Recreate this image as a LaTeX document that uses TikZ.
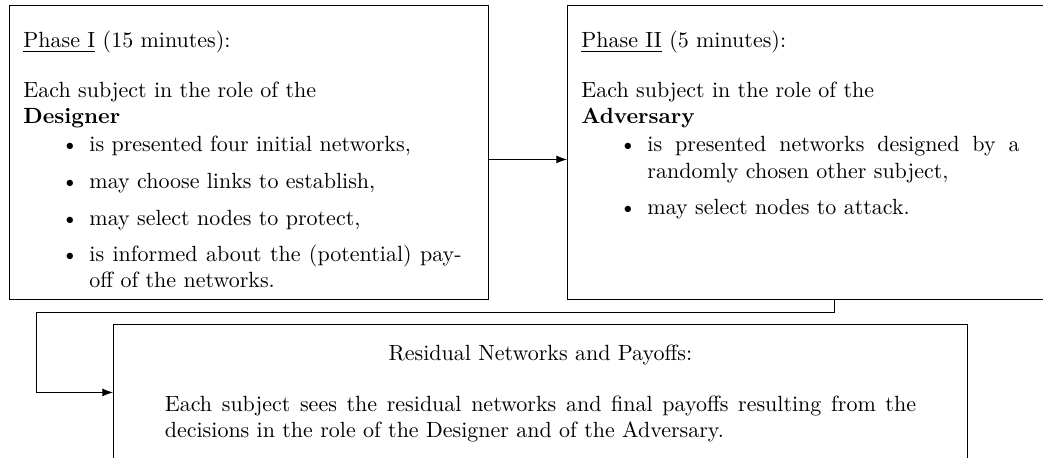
\documentclass[tikz,border=0pt]{standalone}
\usepackage{tikz}
\usepackage{enumitem}
\usetikzlibrary{arrows.meta}
\usetikzlibrary{calc}

\newlength{\px}
\setlength{\px}{0.4545pt}
\setlist[itemize]{leftmargin=30pt, itemsep=4.6pt, parsep=0pt, topsep=0.8pt}

\tikzset{
	phase/.style = {draw, anchor=north west, inner sep=0pt},
	flow/.style = {-Latex}
}

\begin{document}
\begin{tikzpicture}[x=\px, y=-\px]
		\useasboundingbox (0,0) rectangle (1043,457);
		\clip (0,0) rectangle (1043,457);
		
		\node[phase] (designer) at (9,5) {\hspace*{14\px}\begin{minipage}[t][294\px][t]{7cm}
				\vspace*{11.8pt}
				\underline{Phase I} (15 minutes):\par\vspace{10.5pt}
				Each subject in the role of the\\ \textbf{Designer}
				\begin{itemize}
					\item is presented four initial networks,
					\item may choose links to establish,
					\item may select nodes to protect,
					\item is informed about the (potential) pay-\linebreak off of the networks.
				\end{itemize}
			\end{minipage}\hspace*{27\px}};
		
		\node[phase] (adversary) at (567,5) {\hspace*{14\px}\begin{minipage}[t][294\px][t]{7cm}
				\vspace*{11.8pt}
				\underline{Phase II} (5 minutes):\par\vspace{10.5pt}
				Each subject in the role of the\\ \textbf{Adversary}
				\begin{itemize}
					\item is presented networks designed by a randomly chosen other subject,
					\item may select nodes to attack.
				\end{itemize}
			\end{minipage}\hspace*{27\px}};
		
		\node[phase, minimum width=854\px] (residual) at (113,324) {\begin{minipage}[t][136\px][t]{12cm}
				\vspace*{9.5pt}
				{\centering Residual Networks and Payoffs:\par}\vspace{11pt}
				Each subject sees the residual networks and final payoffs resulting from the decisions in the role of the Designer and of the Adversary.
			\end{minipage}};
		
		\draw[flow] ([yshift=-7\px]designer.east) -- ([yshift=-7\px]adversary.west);
		\draw[flow] ([xshift=27\px]adversary.south) -- ++(0,13) -| ([xshift=-77\px]residual.west) -- (residual.west);
\end{tikzpicture}
\end{document}
